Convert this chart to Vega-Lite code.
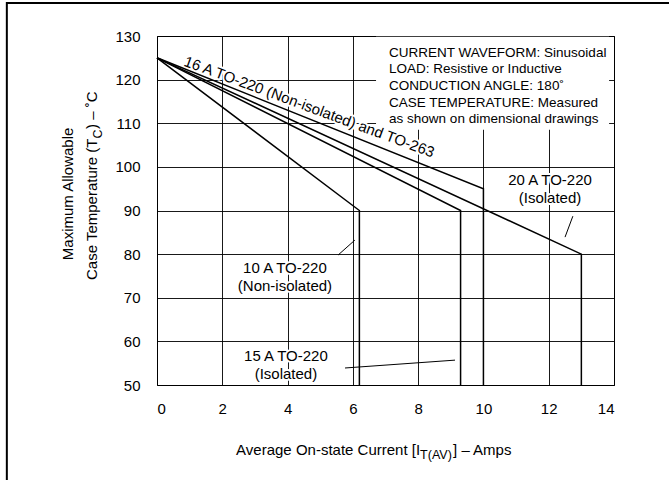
{
  "$schema": "https://vega.github.io/schema/vega-lite/v6.json",
  "width": 457,
  "height": 349,
  "autosize": "none",
  "padding": {"left": 157, "top": 36, "right": 55, "bottom": 95},
  "background": "white",
  "config": {
    "font": "Liberation Sans",
    "view": {"stroke": "#000", "strokeWidth": 1},
    "axis": {
      "grid": true, "gridColor": "#000", "gridWidth": 1, "gridOpacity": 0.9,
      "domain": false, "ticks": false,
      "labelFont": "Liberation Sans", "labelFontSize": 15, "labelColor": "#000",
      "title": null
    },
    "text": {"font": "Liberation Sans", "fontSize": 15, "color": "#000"}
  },
  "datasets": {
    "curves": [
      {"s": "10 A TO-220 (Non-isolated)", "x": 0, "y": 125},
      {"s": "10 A TO-220 (Non-isolated)", "x": 6.2, "y": 90},
      {"s": "10 A TO-220 (Non-isolated)", "x": 6.2, "y": 50},
      {"s": "15 A TO-220 (Isolated)", "x": 0, "y": 125},
      {"s": "15 A TO-220 (Isolated)", "x": 9.3, "y": 90},
      {"s": "15 A TO-220 (Isolated)", "x": 9.3, "y": 50},
      {"s": "16 A TO-220 (Non-isolated) and TO-263", "x": 0, "y": 125},
      {"s": "16 A TO-220 (Non-isolated) and TO-263", "x": 10, "y": 95},
      {"s": "16 A TO-220 (Non-isolated) and TO-263", "x": 10, "y": 50},
      {"s": "20 A TO-220 (Isolated)", "x": 0, "y": 125},
      {"s": "20 A TO-220 (Isolated)", "x": 13, "y": 80},
      {"s": "20 A TO-220 (Isolated)", "x": 13, "y": 50}
    ],
    "labels": [
      {"t": "10 A TO-220\n(Non-isolated)", "x": 3.92, "y": 75.7},
      {"t": "15 A TO-220\n(Isolated)", "x": 3.95, "y": 55.6},
      {"t": "20 A TO-220\n(Isolated)", "x": 12.04, "y": 95.75}
    ],
    "leaders": [
      {"x": 5.55, "y": 79.8, "x2": 6.06, "y2": 83.2},
      {"x": 5.76, "y": 53.9, "x2": 9.13, "y2": 55.7},
      {"x": 12.74, "y": 88.7, "x2": 12.5, "y2": 83.9}
    ],
    "slanted": [
      {"t": "16 A TO-220 (Non-isolated) and TO-263", "x": 4.61, "y": 112.7}
    ]
  },
  "encoding": {
    "x": {"field": "x", "type": "quantitative",
          "scale": {"domain": [0, 14], "nice": false, "zero": false},
          "axis": {"values": [0, 2, 4, 6, 8, 10, 12, 14], "labelPadding": 16}},
    "y": {"field": "y", "type": "quantitative",
          "scale": {"domain": [50, 130], "nice": false, "zero": false},
          "axis": {"values": [50, 60, 70, 80, 90, 100, 110, 120, 130], "labelPadding": 17}}
  },
  "layer": [
    {
      "data": {"values": [{"x": 6.71, "x2": 13.85, "y": 108.5, "y2": 129.85}]},
      "mark": {"type": "rect", "fill": "white", "stroke": null},
      "encoding": {"x2": {"field": "x2"}, "y2": {"field": "y2"}}
    },
    {
      "data": {"name": "labels"},
      "mark": {"type": "text", "align": "center", "baseline": "alphabetic", "lineBreak": "\n", "lineHeight": 18, "stroke": "white", "strokeWidth": 4, "strokeJoin": "round"},
      "encoding": {"text": {"field": "t"}}
    },
    {
      "data": {"name": "slanted"},
      "mark": {"type": "text", "align": "center", "baseline": "alphabetic", "angle": 20.3, "stroke": "white", "strokeWidth": 4, "strokeJoin": "round"},
      "encoding": {"text": {"field": "t"}}
    },
    {
      "data": {"name": "curves"},
      "mark": {"type": "line", "color": "#000", "strokeWidth": 1.5},
      "encoding": {"detail": {"field": "s"}, "order": {"value": null}}
    },
    {
      "data": {"name": "leaders"},
      "mark": {"type": "rule", "color": "#000", "strokeWidth": 1},
      "encoding": {"x2": {"field": "x2"}, "y2": {"field": "y2"}}
    },
    {
      "data": {"name": "labels"},
      "mark": {"type": "text", "align": "center", "baseline": "alphabetic", "lineBreak": "\n", "lineHeight": 18},
      "encoding": {"text": {"field": "t"}}
    },
    {
      "data": {"name": "slanted"},
      "mark": {"type": "text", "align": "center", "baseline": "alphabetic", "angle": 20.3},
      "encoding": {"text": {"field": "t"}}
    },
    {
      "data": {"values": [{"t": "CURRENT WAVEFORM: Sinusoidal\nLOAD: Resistive or Inductive\nCONDUCTION ANGLE: 180˚\nCASE TEMPERATURE: Measured\nas shown on dimensional drawings", "x": 7.11, "y": 125.3}]},
      "mark": {"type": "text", "align": "left", "baseline": "alphabetic", "lineBreak": "\n", "lineHeight": 16.7, "fontSize": 13.5},
      "encoding": {"text": {"field": "t"}}
    },
    {
      "data": {"values": [{"t": "Average On-state Current [I", "x": 8.06, "y": 34.05}]},
      "mark": {"type": "text", "align": "right", "baseline": "alphabetic", "fontSize": 15},
      "encoding": {"text": {"field": "t"}}
    },
    {
      "data": {"values": [{"t": "T(AV)", "x": 8.06, "y": 34.05}]},
      "mark": {"type": "text", "align": "left", "baseline": "alphabetic", "fontSize": 12.5, "dy": 4.5},
      "encoding": {"text": {"field": "t"}}
    },
    {
      "data": {"values": [{"t": "] – Amps", "x": 8.06, "y": 34.05}]},
      "mark": {"type": "text", "align": "left", "baseline": "alphabetic", "fontSize": 15, "dx": 33},
      "encoding": {"text": {"field": "t"}}
    },
    {
      "data": {"values": [{"t": "Maximum Allowable", "x": -2.56, "y": 93.8}]},
      "mark": {"type": "text", "align": "center", "baseline": "alphabetic", "angle": 270, "fontSize": 15},
      "encoding": {"text": {"field": "t"}}
    },
    {
      "data": {"values": [{"t": "Case Temperature (T", "x": -1.83, "y": 106.5}]},
      "mark": {"type": "text", "align": "right", "baseline": "alphabetic", "angle": 270, "fontSize": 15},
      "encoding": {"text": {"field": "t"}}
    },
    {
      "data": {"values": [{"t": "C", "x": -1.83, "y": 106.5}]},
      "mark": {"type": "text", "align": "left", "baseline": "alphabetic", "angle": 270, "fontSize": 12.5, "dy": 4.5},
      "encoding": {"text": {"field": "t"}}
    },
    {
      "data": {"values": [{"t": ") – ˚C", "x": -1.83, "y": 106.5}]},
      "mark": {"type": "text", "align": "left", "baseline": "alphabetic", "angle": 270, "fontSize": 15, "dx": 9.5},
      "encoding": {"text": {"field": "t"}}
    },
    {
      "data": {"values": [{"x": -4.6, "x2": 30, "y": 137.56}]},
      "mark": {"type": "rule", "color": "#000", "strokeWidth": 2},
      "encoding": {"x2": {"field": "x2"}}
    },
    {
      "data": {"values": [{"x": -4.6, "y": 137.8, "y2": -30}]},
      "mark": {"type": "rule", "color": "#000", "strokeWidth": 2},
      "encoding": {"y2": {"field": "y2"}}
    }
  ]
}
